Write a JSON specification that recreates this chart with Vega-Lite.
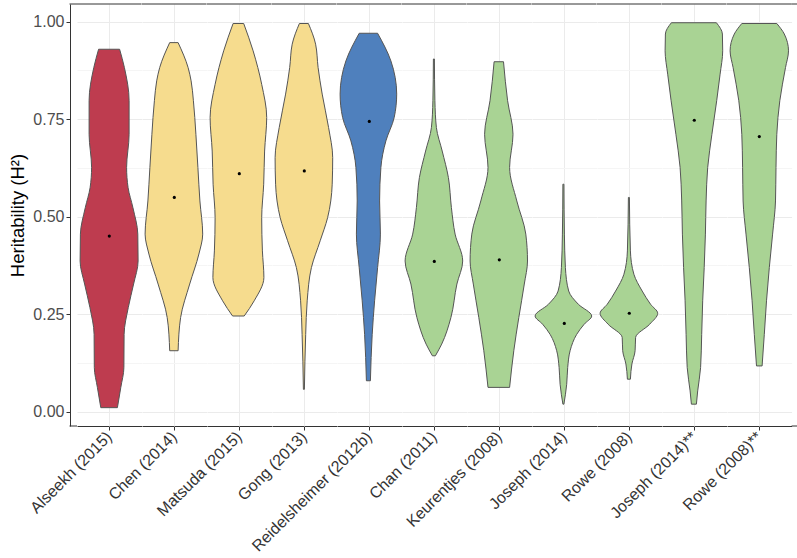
{
  "$schema": "https://vega.github.io/schema/vega-lite/v6.json",
  "background": "white",
  "padding": {"left": 8, "top": 3, "right": 2, "bottom": 5},
  "bounds": "flush",
  "config": {
    "font": "Liberation Sans",
    "view": {"stroke": null},
    "axis": {"labelFont": "Liberation Sans", "titleFont": "Liberation Sans"}
  },
  "data": {
    "values": [
      {"study": "Alseekh (2015)", "y": 0.929, "w": 21},
      {"study": "Alseekh (2015)", "y": 0.882, "w": 30.6},
      {"study": "Alseekh (2015)", "y": 0.797, "w": 40},
      {"study": "Alseekh (2015)", "y": 0.711, "w": 40},
      {"study": "Alseekh (2015)", "y": 0.626, "w": 35},
      {"study": "Alseekh (2015)", "y": 0.574, "w": 38},
      {"study": "Alseekh (2015)", "y": 0.523, "w": 47.6},
      {"study": "Alseekh (2015)", "y": 0.455, "w": 57.4},
      {"study": "Alseekh (2015)", "y": 0.386, "w": 58},
      {"study": "Alseekh (2015)", "y": 0.327, "w": 49},
      {"study": "Alseekh (2015)", "y": 0.267, "w": 38.4},
      {"study": "Alseekh (2015)", "y": 0.198, "w": 30},
      {"study": "Alseekh (2015)", "y": 0.113, "w": 29.6},
      {"study": "Alseekh (2015)", "y": 0.062, "w": 23.4},
      {"study": "Alseekh (2015)", "y": 0.010, "w": 16.6},
      {"study": "Alseekh (2015)", "med": 0.45},

      {"study": "Chen (2014)", "y": 0.946, "w": 8.4},
      {"study": "Chen (2014)", "y": 0.882, "w": 28.4},
      {"study": "Chen (2014)", "y": 0.848, "w": 34.4},
      {"study": "Chen (2014)", "y": 0.797, "w": 39},
      {"study": "Chen (2014)", "y": 0.711, "w": 44},
      {"study": "Chen (2014)", "y": 0.626, "w": 48},
      {"study": "Chen (2014)", "y": 0.540, "w": 52},
      {"study": "Chen (2014)", "y": 0.455, "w": 57.6},
      {"study": "Chen (2014)", "y": 0.404, "w": 50},
      {"study": "Chen (2014)", "y": 0.327, "w": 31.6},
      {"study": "Chen (2014)", "y": 0.241, "w": 13.4},
      {"study": "Chen (2014)", "y": 0.156, "w": 8.4},
      {"study": "Chen (2014)", "med": 0.549},

      {"study": "Matsuda (2015)", "y": 0.995, "w": 10.6},
      {"study": "Matsuda (2015)", "y": 0.925, "w": 29.4},
      {"study": "Matsuda (2015)", "y": 0.839, "w": 46.6},
      {"study": "Matsuda (2015)", "y": 0.754, "w": 56.6},
      {"study": "Matsuda (2015)", "y": 0.668, "w": 52.4},
      {"study": "Matsuda (2015)", "y": 0.583, "w": 50.6},
      {"study": "Matsuda (2015)", "y": 0.497, "w": 46.6},
      {"study": "Matsuda (2015)", "y": 0.412, "w": 48},
      {"study": "Matsuda (2015)", "y": 0.344, "w": 51},
      {"study": "Matsuda (2015)", "y": 0.284, "w": 31.6},
      {"study": "Matsuda (2015)", "y": 0.245, "w": 11.6},
      {"study": "Matsuda (2015)", "med": 0.610},

      {"study": "Gong (2013)", "y": 0.995, "w": 9},
      {"study": "Gong (2013)", "y": 0.942, "w": 23.4},
      {"study": "Gong (2013)", "y": 0.882, "w": 28.4},
      {"study": "Gong (2013)", "y": 0.814, "w": 36.6},
      {"study": "Gong (2013)", "y": 0.728, "w": 49.4},
      {"study": "Gong (2013)", "y": 0.651, "w": 57.6},
      {"study": "Gong (2013)", "y": 0.583, "w": 56.6},
      {"study": "Gong (2013)", "y": 0.497, "w": 47.4},
      {"study": "Gong (2013)", "y": 0.438, "w": 32.6},
      {"study": "Gong (2013)", "y": 0.369, "w": 15},
      {"study": "Gong (2013)", "y": 0.284, "w": 6.6},
      {"study": "Gong (2013)", "y": 0.198, "w": 3.6},
      {"study": "Gong (2013)", "y": 0.057, "w": 1},
      {"study": "Gong (2013)", "med": 0.617},

      {"study": "Reidelsheimer (2012b)", "y": 0.970, "w": 18.4},
      {"study": "Reidelsheimer (2012b)", "y": 0.899, "w": 45},
      {"study": "Reidelsheimer (2012b)", "y": 0.814, "w": 56.6},
      {"study": "Reidelsheimer (2012b)", "y": 0.754, "w": 51.6},
      {"study": "Reidelsheimer (2012b)", "y": 0.694, "w": 35},
      {"study": "Reidelsheimer (2012b)", "y": 0.626, "w": 25},
      {"study": "Reidelsheimer (2012b)", "y": 0.540, "w": 22.4},
      {"study": "Reidelsheimer (2012b)", "y": 0.455, "w": 24},
      {"study": "Reidelsheimer (2012b)", "y": 0.369, "w": 18.4},
      {"study": "Reidelsheimer (2012b)", "y": 0.284, "w": 12.4},
      {"study": "Reidelsheimer (2012b)", "y": 0.198, "w": 7.6},
      {"study": "Reidelsheimer (2012b)", "y": 0.079, "w": 4},
      {"study": "Reidelsheimer (2012b)", "med": 0.744},

      {"study": "Chan (2011)", "y": 0.904, "w": 1},
      {"study": "Chan (2011)", "y": 0.797, "w": 2},
      {"study": "Chan (2011)", "y": 0.728, "w": 5},
      {"study": "Chan (2011)", "y": 0.668, "w": 16.6},
      {"study": "Chan (2011)", "y": 0.600, "w": 29},
      {"study": "Chan (2011)", "y": 0.523, "w": 35},
      {"study": "Chan (2011)", "y": 0.455, "w": 42.4},
      {"study": "Chan (2011)", "y": 0.386, "w": 57.6},
      {"study": "Chan (2011)", "y": 0.327, "w": 46},
      {"study": "Chan (2011)", "y": 0.241, "w": 34},
      {"study": "Chan (2011)", "y": 0.173, "w": 15.6},
      {"study": "Chan (2011)", "y": 0.143, "w": 3},
      {"study": "Chan (2011)", "med": 0.385},

      {"study": "Keurentjes (2008)", "y": 0.897, "w": 9.4},
      {"study": "Keurentjes (2008)", "y": 0.797, "w": 17.6},
      {"study": "Keurentjes (2008)", "y": 0.711, "w": 28.4},
      {"study": "Keurentjes (2008)", "y": 0.626, "w": 21.6},
      {"study": "Keurentjes (2008)", "y": 0.540, "w": 36},
      {"study": "Keurentjes (2008)", "y": 0.455, "w": 54},
      {"study": "Keurentjes (2008)", "y": 0.386, "w": 57.4},
      {"study": "Keurentjes (2008)", "y": 0.327, "w": 51},
      {"study": "Keurentjes (2008)", "y": 0.241, "w": 40},
      {"study": "Keurentjes (2008)", "y": 0.156, "w": 30},
      {"study": "Keurentjes (2008)", "y": 0.062, "w": 21.6},
      {"study": "Keurentjes (2008)", "med": 0.389},

      {"study": "Joseph (2014)", "y": 0.583, "w": 1},
      {"study": "Joseph (2014)", "y": 0.455, "w": 2},
      {"study": "Joseph (2014)", "y": 0.369, "w": 4},
      {"study": "Joseph (2014)", "y": 0.309, "w": 10.6},
      {"study": "Joseph (2014)", "y": 0.275, "w": 30},
      {"study": "Joseph (2014)", "y": 0.245, "w": 56.6},
      {"study": "Joseph (2014)", "y": 0.224, "w": 41.6},
      {"study": "Joseph (2014)", "y": 0.198, "w": 26.6},
      {"study": "Joseph (2014)", "y": 0.156, "w": 13.4},
      {"study": "Joseph (2014)", "y": 0.113, "w": 8.6},
      {"study": "Joseph (2014)", "y": 0.070, "w": 6.6},
      {"study": "Joseph (2014)", "y": 0.019, "w": 1},
      {"study": "Joseph (2014)", "med": 0.226},

      {"study": "Rowe (2008)", "y": 0.549, "w": 1},
      {"study": "Rowe (2008)", "y": 0.412, "w": 3},
      {"study": "Rowe (2008)", "y": 0.352, "w": 10},
      {"study": "Rowe (2008)", "y": 0.309, "w": 26.6},
      {"study": "Rowe (2008)", "y": 0.275, "w": 43.4},
      {"study": "Rowe (2008)", "y": 0.252, "w": 57.6},
      {"study": "Rowe (2008)", "y": 0.224, "w": 41.6},
      {"study": "Rowe (2008)", "y": 0.190, "w": 13.4},
      {"study": "Rowe (2008)", "y": 0.156, "w": 12.4},
      {"study": "Rowe (2008)", "y": 0.122, "w": 6},
      {"study": "Rowe (2008)", "y": 0.083, "w": 3},
      {"study": "Rowe (2008)", "med": 0.252},

      {"study": "Joseph (2014)**", "y": 0.997, "w": 45},
      {"study": "Joseph (2014)**", "y": 0.968, "w": 57},
      {"study": "Joseph (2014)**", "y": 0.925, "w": 57.6},
      {"study": "Joseph (2014)**", "y": 0.865, "w": 52.4},
      {"study": "Joseph (2014)**", "y": 0.797, "w": 45.6},
      {"study": "Joseph (2014)**", "y": 0.711, "w": 36},
      {"study": "Joseph (2014)**", "y": 0.626, "w": 27.6},
      {"study": "Joseph (2014)**", "y": 0.540, "w": 24.4},
      {"study": "Joseph (2014)**", "y": 0.455, "w": 23},
      {"study": "Joseph (2014)**", "y": 0.369, "w": 20.6},
      {"study": "Joseph (2014)**", "y": 0.284, "w": 17.6},
      {"study": "Joseph (2014)**", "y": 0.198, "w": 15.6},
      {"study": "Joseph (2014)**", "y": 0.113, "w": 13.4},
      {"study": "Joseph (2014)**", "y": 0.053, "w": 7.6},
      {"study": "Joseph (2014)**", "y": 0.019, "w": 5},
      {"study": "Joseph (2014)**", "med": 0.747},

      {"study": "Rowe (2008)**", "y": 0.995, "w": 35},
      {"study": "Rowe (2008)**", "y": 0.968, "w": 50},
      {"study": "Rowe (2008)**", "y": 0.925, "w": 58.4},
      {"study": "Rowe (2008)**", "y": 0.882, "w": 52.4},
      {"study": "Rowe (2008)**", "y": 0.797, "w": 41},
      {"study": "Rowe (2008)**", "y": 0.711, "w": 35},
      {"study": "Rowe (2008)**", "y": 0.626, "w": 33.4},
      {"study": "Rowe (2008)**", "y": 0.540, "w": 32.4},
      {"study": "Rowe (2008)**", "y": 0.455, "w": 26.6},
      {"study": "Rowe (2008)**", "y": 0.369, "w": 20},
      {"study": "Rowe (2008)**", "y": 0.284, "w": 14.4},
      {"study": "Rowe (2008)**", "y": 0.198, "w": 10},
      {"study": "Rowe (2008)**", "y": 0.117, "w": 5.6},
      {"study": "Rowe (2008)**", "med": 0.705}
    ]
  },
  "facet": {
    "column": {
      "field": "study",
      "type": "nominal",
      "sort": ["Alseekh (2015)", "Chen (2014)", "Matsuda (2015)", "Gong (2013)", "Reidelsheimer (2012b)", "Chan (2011)", "Keurentjes (2008)", "Joseph (2014)", "Rowe (2008)", "Joseph (2014)**", "Rowe (2008)**"],
      "title": null,
      "header": {
        "labelOrient": "bottom",
        "labelAngle": -45,
        "labelAlign": "right",
        "labelBaseline": "middle",
        "labelAnchor": "middle",
        "labelPadding": 4,
        "labelFont": "Liberation Sans",
        "labelFontSize": 16,
        "labelColor": "#333333"
      }
    }
  },
  "spacing": 0,
  "spec": {
    "width": 64.6,
    "height": 422,
    "layer": [
      {
        "transform": [
          {"filter": "isValid(datum.w)"},
          {"stack": "w", "groupby": ["study", "y"], "offset": "center", "as": ["w0", "w1"]}
        ],
        "mark": {"type": "area", "orient": "horizontal", "stroke": "#555555", "strokeWidth": 1, "interpolate": "monotone"},
        "encoding": {
          "y": {
            "field": "y", "type": "quantitative",
            "scale": {"domain": [-0.037, 1.045], "nice": false, "zero": false},
            "axis": {
              "title": "Heritability (H²)",
              "titleFontSize": 18.5,
              "titleFontWeight": "normal",
              "titleColor": "#000000",
              "titlePadding": 5,
              "offset": 7,
              "values": [0, 0.125, 0.25, 0.375, 0.5, 0.625, 0.75, 0.875, 1],
              "labelExpr": "indexof(['0.00','0.25','0.50','0.75','1.00'], format(datum.value, '.2f')) >= 0 ? format(datum.value, '.2f') : ''",
              "labelFontSize": 16,
              "labelColor": "#4d4d4d",
              "labelPadding": 2,
              "tickSize": 4,
              "tickColor": "#333333",
              "tickOpacity": {"condition": {"test": "indexof([0, 0.25, 0.5, 0.75, 1], datum.value) >= 0", "value": 1}, "value": 0},
              "domainColor": "#333333",
              "grid": true,
              "gridColor": {"condition": {"test": "indexof([0, 0.25, 0.5, 0.75, 1], datum.value) >= 0", "value": "#ebebeb"}, "value": "#f5f5f5"},
              "gridWidth": 1
            }
          },
          "x": {
            "field": "w0", "type": "quantitative",
            "scale": {"domain": [-3.1, 61.5], "nice": false, "zero": false},
            "axis": {
              "title": null,
              "values": [29.2],
              "labels": false,
              "tickSize": 4,
              "tickColor": "#333333",
              "domainColor": "#333333",
              "grid": true,
              "gridColor": "#ebebeb"
            }
          },
          "x2": {"field": "w1"},
          "color": {
            "field": "study", "type": "nominal", "legend": null,
            "scale": {
              "domain": ["Alseekh (2015)", "Chen (2014)", "Matsuda (2015)", "Gong (2013)", "Reidelsheimer (2012b)", "Chan (2011)", "Keurentjes (2008)", "Joseph (2014)", "Rowe (2008)", "Joseph (2014)**", "Rowe (2008)**"],
              "range": ["#be3c4f", "#f6dc8e", "#f6dc8e", "#f6dc8e", "#4f80bd", "#a9d394", "#a9d394", "#a9d394", "#a9d394", "#a9d394", "#a9d394"]
            }
          },
          "fillOpacity": {"value": 1}
        }
      },
      {
        "transform": [{"filter": "isValid(datum.med)"}],
        "mark": {"type": "point", "filled": true, "color": "black", "size": 10, "opacity": 1},
        "encoding": {
          "y": {"field": "med", "type": "quantitative"},
          "x": {"datum": 29.2}
        }
      },
      {
        "transform": [{"filter": "isValid(datum.med)"}],
        "mark": {"type": "rule", "color": "#333333", "strokeWidth": 1},
        "encoding": {"y": {"datum": 1.045}}
      },
      {
        "transform": [{"filter": "isValid(datum.med) && datum.study === 'Rowe (2008)**'"}],
        "mark": {"type": "rule", "color": "#333333", "strokeWidth": 1},
        "encoding": {"x": {"datum": 68.5}}
      },
      {
        "transform": [{"filter": "isValid(datum.med) && datum.study === 'Rowe (2008)**'"}],
        "mark": {"type": "rule", "color": "#333333", "strokeWidth": 1},
        "encoding": {"x": {"datum": 61.5}, "x2": {"datum": 69}, "y": {"datum": 1.045}}
      },
      {
        "transform": [{"filter": "isValid(datum.med) && datum.study === 'Rowe (2008)**'"}],
        "mark": {"type": "rule", "color": "#333333", "strokeWidth": 1},
        "encoding": {"x": {"datum": 61.5}, "x2": {"datum": 69}, "y": {"datum": -0.037}}
      },
      {
        "transform": [{"filter": "isValid(datum.med) && datum.study === 'Alseekh (2015)'"}],
        "mark": {"type": "rule", "color": "#333333", "strokeWidth": 1},
        "encoding": {"x": {"datum": -10.6}, "x2": {"datum": -3.1}, "y": {"datum": 1.045}}
      },
      {
        "transform": [{"filter": "isValid(datum.med) && datum.study === 'Alseekh (2015)'"}],
        "mark": {"type": "rule", "color": "#333333", "strokeWidth": 1},
        "encoding": {"x": {"datum": -10.6}, "x2": {"datum": -3.1}, "y": {"datum": -0.037}}
      }
    ]
  }
}
